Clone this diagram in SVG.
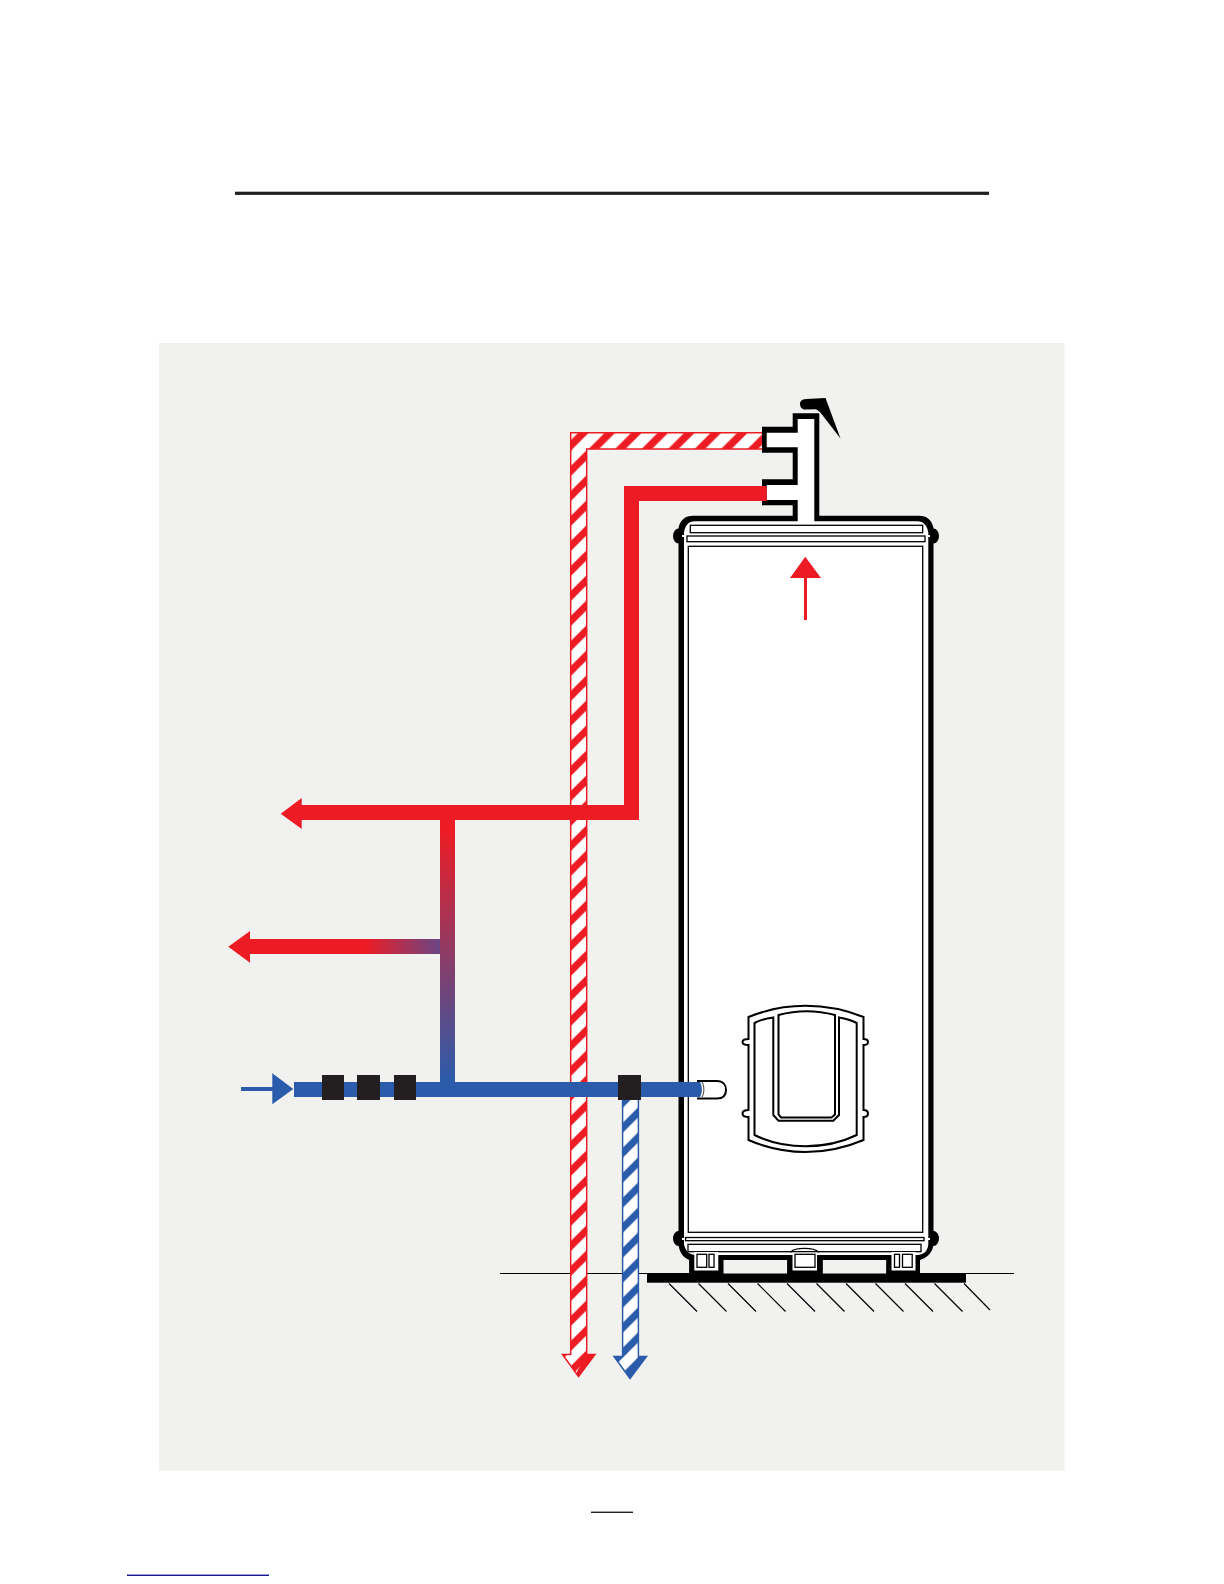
<svg xmlns="http://www.w3.org/2000/svg" width="1224" height="1584" viewBox="0 0 1224 1584">
<style>
.k{fill:#000}.w{fill:#fff}.o{fill:#fff;stroke:#000;stroke-width:1.3}.l{fill:none;stroke:#000;stroke-width:1.2}.p{fill:none;stroke:#000;stroke-width:2}.r{fill:#ed1c24}.b{fill:#2b5cab}.v{fill:#231f20}.g{fill:#f1f1ef}
</style>
<defs>
<pattern id="hv" patternUnits="userSpaceOnUse" width="25" height="25" patternTransform="translate(11.8 0)"><rect width="25" height="25" fill="#fff"/><path d="M0 0H10L0 10ZM25 0V10L10 25H0Z" fill="#ed1c24"/></pattern>
<pattern id="hh" patternUnits="userSpaceOnUse" width="26.500" height="26.500" patternTransform="translate(4 0)"><rect width="26.500" height="26.500" fill="#fff"/><path d="M0 0H10.500L0 10.500ZM26.500 0V10.500L10.500 26.500H0Z" fill="#ed1c24"/></pattern>
<pattern id="hb" patternUnits="userSpaceOnUse" width="25" height="25" patternTransform="translate(20.500 0)"><rect width="25" height="25" fill="#fff"/><path d="M0 0H10L0 10ZM25 0V10L10 25H0Z" fill="#2b5cab"/></pattern>
<linearGradient id="gv" gradientUnits="userSpaceOnUse" x1="0" y1="830" x2="0" y2="1082"><stop offset="0" stop-color="#ed1c24"/><stop offset="1" stop-color="#2b5cab"/></linearGradient>
<linearGradient id="gh" gradientUnits="userSpaceOnUse" x1="365" y1="0" x2="455" y2="0"><stop offset="0" stop-color="#ed1c24"/><stop offset="1" stop-color="#4f4f98"/></linearGradient>
</defs>
<rect id="background" width="1224" height="1584" fill="#fff"/>
<rect x="235" y="191.700" width="754" height="3.200" fill="#231f20"/>
<rect x="591" y="1511.600" width="42" height="1.400" fill="#231f20"/>
<rect x="127" y="1574.600" width="142" height="1.300" fill="#00008b"/>
<rect id="panel" class="g" x="159" y="343" width="905.500" height="1127.700"/>
<g id="ground">
<path d="M500 1273.500H1014" stroke="#000" stroke-width="1.200" fill="none"/>
<path class="l" d="M669 1283.500l28 28M698.500 1283.500l28 28M728 1283.500l28 28M757.500 1283.500l28 28M787 1283.500l28 28M816.500 1283.500l28 28M846 1283.500l28 28M875.500 1283.500l28 28M905 1283.500l28 28M934.500 1283.500l28 28M964 1283.500l26 26.500"/>
<rect class="k" x="647" y="1273.300" width="319" height="9.400"/>
</g>
<g id="tank">
<path class="k" d="M689.300 1274V1260C682 1257 679 1251 678.500 1244V528C680 520 685 515.700 693 515.700H919C927 515.700 932 520 933.500 528V1244C933 1251 929 1257 920 1260V1274Z"/>
<ellipse class="k" cx="678.500" cy="536" rx="5.500" ry="7.500"/><ellipse class="k" cx="933.500" cy="536" rx="5.500" ry="7.500"/>
<ellipse class="k" cx="678.500" cy="1238.500" rx="5.500" ry="7.500"/><ellipse class="k" cx="933.500" cy="1238.500" rx="5.500" ry="7.500"/>
<path class="w" d="M695 521.300H917C924 521.300 927 526 928.300 532.500V1244C928 1250 925 1254 918 1255H695C688 1254 685 1250 684 1244V532.500C685 526 688 521.300 695 521.300Z"/>
<rect class="w" x="682" y="535" width="248" height="2"/>
<rect class="w" x="682" y="1238" width="248" height="2"/>
<rect class="o" x="690.300" y="525.300" width="232.400" height="7.400"/>
<rect class="o" x="687" y="536" width="238" height="5.700"/>
<rect class="o" x="688.300" y="546.300" width="234.400" height="686"/>
<rect class="o" x="685.600" y="1237.500" width="238.400" height="3.200"/>
<rect class="o" x="688" y="1244.300" width="233" height="7.400"/>
</g>
<g id="feet">
<path class="g" d="M723.300 1260H787.300V1273.500H723.300ZM822.600 1260H886.400V1273.500H822.600Z"/>
<path class="k" d="M689.300 1255H723.300V1274H689.300ZM787.300 1255H822.600V1274H787.300ZM886.400 1255H920V1274H886.400ZM723 1255H787.500V1260H723ZM822.500 1255H886.500V1260H822.500Z"/>
<path class="w" d="M694.300 1252H718.300V1270.500H694.300ZM792.500 1252H817V1270.500H792.500ZM891.500 1252H915.500V1270.500H891.500Z"/>
<path class="o" d="M791 1251.700C795 1247.300 814 1247.300 818 1251.700Z"/>
<rect class="o" x="697" y="1254.300" width="9.700" height="13"/>
<rect class="o" x="709" y="1254.300" width="5" height="13"/>
<rect class="o" x="795" y="1254.300" width="20" height="13"/>
<rect class="o" x="894.500" y="1254.300" width="5" height="13"/>
<rect class="o" x="902.500" y="1254.300" width="9.700" height="13"/>
</g>
<g id="control-panel">
<path class="p" d="M748.500 1017C785 1002 826 1002 863.500 1017V1039C867 1039 868 1040 868 1042C868 1044 867 1045 863.500 1045V1110C867 1110 868 1111 868 1113.500C868 1116 867 1117 863.500 1117V1140C826 1156 785 1156 748.500 1140V1117C744 1117 742.500 1116 742.500 1113.500C742.500 1111 744 1110 748.500 1110V1045C744 1045 742.500 1044 742.500 1042C742.500 1040 744 1039 748.500 1039Z"/>
<path class="p" d="M773.300 1017.500C766 1018.500 760 1020 754.500 1023V1135C785 1150 826 1150 856.700 1135V1023C851 1020 845 1018.500 839 1017.500V1115L833.300 1120.700H778.500L773.300 1115Z"/>
<path class="p" d="M778.500 1015C797 1010 816 1010 835 1015V1114.500L831.500 1117.500H781L778.500 1114.500Z"/>
</g>
<g id="red-arrow"><path class="r" d="M805.300 556.700L821 578H807V620H804V578H790Z"/></g>
<g id="manifold">
<path class="k" d="M762 426.700H792.700V413.300H819.300V516H792.700V505.300H762V479.300H792.700V452.700H762Z"/>
<path class="w" d="M766.700 432.700H797.700V419H814.300V523H797.700V500H766.700V485H797.700V447.300H766.700Z"/>
<path class="k" d="M800 404C800 400.500 803 399.200 806 399L825.500 398L840.500 438.500L820 412L816 409.300L805 409.500C802 409.500 800 407 800 404Z"/>
</g>
<g id="connectors">
<rect x="570.700" y="432.700" width="191.300" height="16.300" fill="url(#hh)"/>
<path d="M570.700 449H586.700V1354.500H595L578.500 1376.500L562.500 1354.500H570.700Z" fill="url(#hv)"/>
<path d="M762 432.700H570.700V1354.500H562.500L578.500 1376.500L595 1354.500H586.700V449H762" fill="none" stroke="#ed1c24" stroke-width="1.500"/>
<path d="M586.700 1354.500H595L578.500 1376.500L576 1373.500Z" class="r"/>
<path class="r" d="M280.700 813.700L301.700 798V805H624V486H766.700V501H639V820H301.700V829Z"/>
<rect x="440" y="820" width="15" height="262" fill="url(#gv)"/>
<path d="M228.300 946.700L250 931V939H440V954H250V962.700Z" fill="url(#gh)"/>
<path d="M622.600 1097H638.400V1356.500H646.500L630 1378.500L614 1356.500H622.600Z" fill="url(#hb)" stroke="#2b5cab" stroke-width="1.500"/>
<path d="M638.400 1356.500H646.500L630 1378.500L627.500 1375.500Z" class="b"/>
<path d="M697 1081H717C723 1081 726 1085 726 1090C726 1095 723 1098.500 717 1098.500H697" fill="#fff" stroke="#000" stroke-width="2"/>
<path d="M702 1082C704.500 1086 704.500 1093 702 1097" fill="none" stroke="#000" stroke-width="0.800"/>
<path class="b" d="M294 1082H700C702.500 1086 702.500 1093 700 1097H294Z"/>
<path class="b" d="M293.300 1089L272.300 1073.300V1087H241V1091H272.300V1104.300Z"/>
<path class="v" d="M322 1075H344V1100H322ZM357 1075H380V1100H357ZM394 1075H416V1100H394ZM618 1075H641V1100H618Z"/>
</g>
</svg>
